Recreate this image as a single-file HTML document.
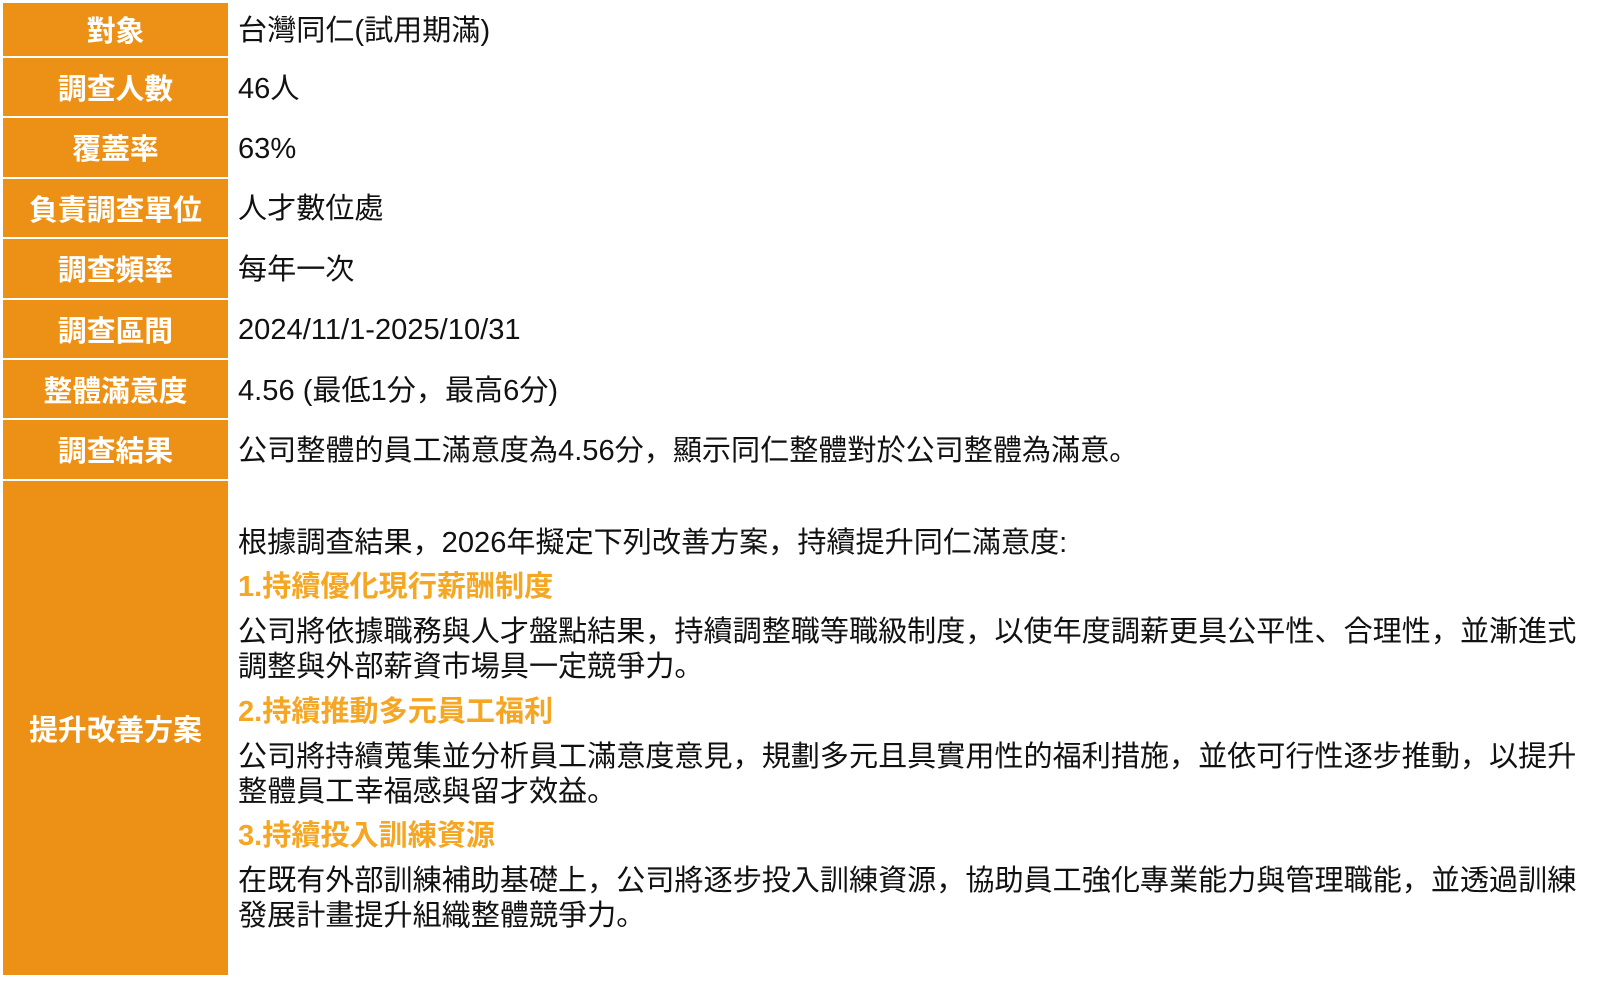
<!DOCTYPE html>
<html><head><meta charset="utf-8"><style>
body{margin:0;width:1600px;height:997px;background:#fff;position:relative;overflow:hidden;font-family:"Liberation Sans","Noto Sans CJK JP",sans-serif;}
.l{position:absolute;left:3px;width:225px;background:#EC9016;color:#fff;font-weight:bold;font-size:28.8px;display:flex;align-items:center;justify-content:center;}
.t{position:absolute;left:238px;font-size:29.1px;color:#111;white-space:nowrap;line-height:35px;}
.h{color:#F5A623;font-weight:bold;}
</style></head><body>
<div class="l" style="top:3px;height:53px">對象</div>
<div class="l" style="top:58px;height:58px">調查人數</div>
<div class="l" style="top:118px;height:59px">覆蓋率</div>
<div class="l" style="top:179px;height:58px">負責調查單位</div>
<div class="l" style="top:239px;height:59px">調查頻率</div>
<div class="l" style="top:300px;height:58px">調查區間</div>
<div class="l" style="top:360px;height:58px">整體滿意度</div>
<div class="l" style="top:420px;height:59px">調查結果</div>
<div class="l" style="top:481px;height:494px">提升改善方案</div>
<div class="t" style="top:14px">台灣同仁(試用期滿)</div>
<div class="t" style="top:72px">46人</div>
<div class="t" style="top:132px">63%</div>
<div class="t" style="top:192px">人才數位處</div>
<div class="t" style="top:253px">每年一次</div>
<div class="t" style="top:313px">2024/11/1-2025/10/31</div>
<div class="t" style="top:374px">4.56 (最低1分，最高6分)</div>
<div class="t" style="top:434px">公司整體的員工滿意度為4.56分，顯示同仁整體對於公司整體為滿意。</div>
<div class="t" style="top:526px">根據調查結果，2026年擬定下列改善方案，持續提升同仁滿意度:</div>
<div class="t h" style="top:570px">1.持續優化現行薪酬制度</div>
<div class="t" style="top:615px">公司將依據職務與人才盤點結果，持續調整職等職級制度，以使年度調薪更具公平性、合理性，並漸進式<br>調整與外部薪資市場具一定競爭力。</div>
<div class="t h" style="top:695px">2.持續推動多元員工福利</div>
<div class="t" style="top:740px">公司將持續蒐集並分析員工滿意度意見，規劃多元且具實用性的福利措施，並依可行性逐步推動，以提升<br>整體員工幸福感與留才效益。</div>
<div class="t h" style="top:819px">3.持續投入訓練資源</div>
<div class="t" style="top:864px">在既有外部訓練補助基礎上，公司將逐步投入訓練資源，協助員工強化專業能力與管理職能，並透過訓練<br>發展計畫提升組織整體競爭力。</div>
</body></html>
